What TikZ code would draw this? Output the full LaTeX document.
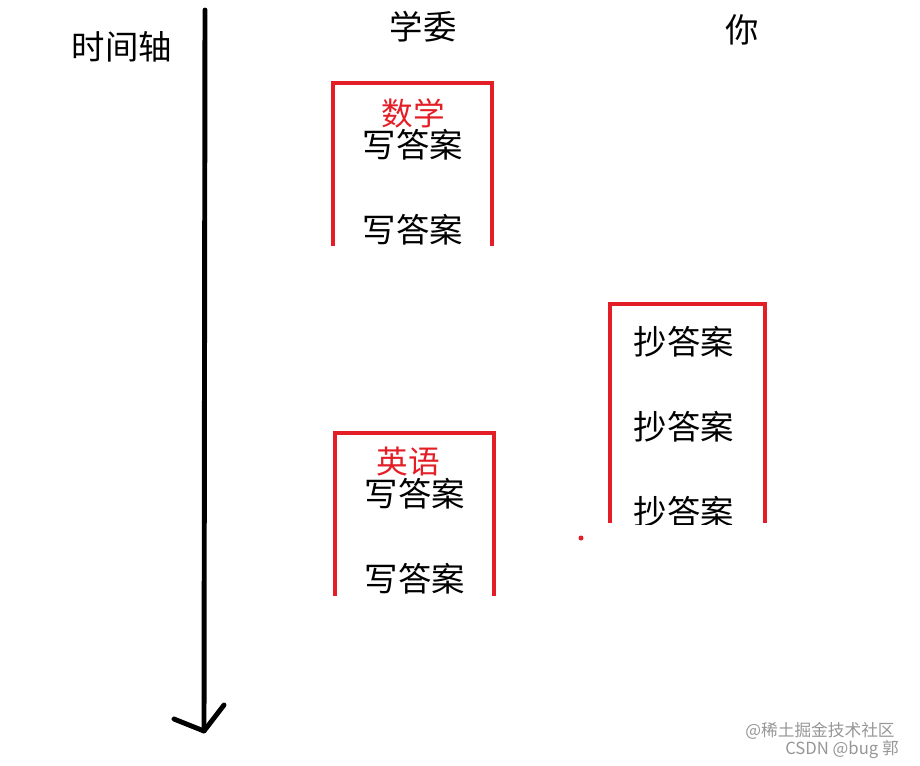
\documentclass[tikz,border=0pt]{standalone}
\usepackage{fontspec}
\newfontfamily\cjk{Noto Sans CJK SC}
\usetikzlibrary{positioning}
\definecolor{boxred}{RGB}{228,30,38}
\definecolor{wmgray}{RGB}{150,150,150}
\tikzset{
    %Define standard looks
    colhead/.style={
      font=\cjk\fontsize{19}{19}\selectfont,
      inner sep=0pt},
    subject/.style={
      font=\cjk\fontsize{18}{18}\selectfont,
      text=boxred,
      inner sep=0pt},
    task/.style={
      font=\cjk\fontsize{19}{19}\selectfont,
      inner sep=0pt},
    openbox/.style={
      draw=boxred,
      line width=2.3pt},
    axisline/.style={
      draw=black,
      line width=2.8pt,
      line cap=round,
      line join=round},
    wm/.style={
      font=\cjk\fontsize{9.5}{9.5}\selectfont,
      text=wmgray,
      inner sep=0pt},
}

\begin{document}
\begin{tikzpicture}[x=0.02cm,y=-0.02cm,node distance=1.7cm,on grid]
    \useasboundingbox (0,0) rectangle (920,765);

    % time axis
    \node (axis) [colhead] at (122,47) {时间轴};
    \coordinate (axtop) at (205,10);
    \coordinate (axtip) at (204,731);
    \coordinate (barbl) at (174,719);
    \coordinate (barbr) at (224,705);
    \draw[axisline] (axtop) -- (axtip);
    \draw[axisline] (barbl) -- (axtip) -- (barbr);

    % column heads
    \node (xuewei) [colhead] at (423,27) {学委};
    \node (ni) [colhead] at (742,30) {你};

    % maths block
    \draw[openbox] (333,246) |- (492,83) -- (492,246);
    \node (math) [subject] at (413,113) {数学};
    \node (math1) [task] [below=0.64cm of math] {写答案};
    \node (math2) [task] [below=of math1] {写答案};

    % english block
    \draw[openbox] (335,596) |- (494,433) -- (494,596);
    \node (engl) [subject] at (408,462) {英语};
    \node (engl1) [task] at (415,494) {写答案};
    \node (engl2) [task] [below=of engl1] {写答案};

    % copy block
    \draw[openbox] (610,523) |- (765,304) -- (765,523);
    \begin{scope}
      \clip (600,300) rectangle (780,524);
      \node (copy1) [task] at (684,342) {抄答案};
      \node (copy2) [task] [below=of copy1] {抄答案};
      \node (copy3) [task] [below=of copy2] {抄答案};
    \end{scope}

    \fill[boxred] (581,538) circle (2.5);

    % watermarks
    \node (wm1) [wm] at (820,731) {@稀土掘金技术社区};
    \node (wm2) [wm] at (842,750) {CSDN @bug 郭};
\end{tikzpicture}
\end{document}
